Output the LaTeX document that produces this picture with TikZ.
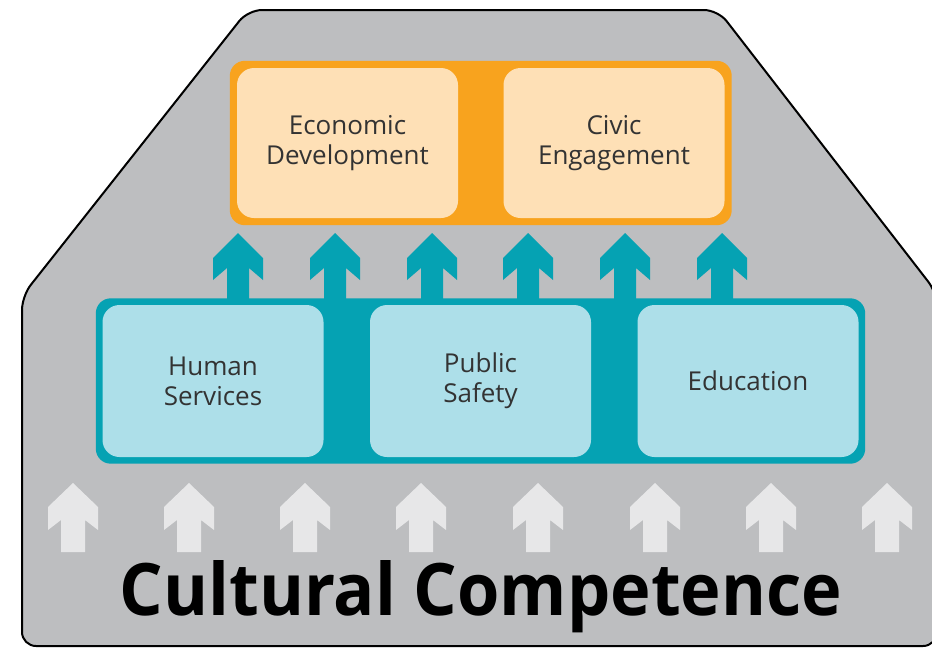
\documentclass[tikz,border=0pt]{standalone}
\usepackage{fontspec}
\setmainfont{Open Sans}
\usetikzlibrary{positioning,fit,backgrounds}

\definecolor{shadegray}{HTML}{BDBEC0}
\definecolor{amber}{HTML}{F8A31E}
\definecolor{peach}{HTML}{FEE0B6}
\definecolor{tealband}{HTML}{05A2B3}
\definecolor{skyblue}{HTML}{ADDFE9}
\definecolor{paleshaft}{HTML}{E7E7E8}
\definecolor{labelgray}{HTML}{333333}

\begin{document}
\begin{tikzpicture}[x=1pt, y=-1pt, node distance=267.5pt, on grid,
    box/.style={rounded corners=17pt, minimum width=221pt, minimum height=150pt,
      align=center, text=labelgray, font=\fontsize{26}{30}\selectfont},
    topbox/.style={box, fill=peach},
    midbox/.style={box, fill=skyblue, minimum height=152pt},
    frame/.style={rounded corners=15pt, inner sep=7pt}]
    \useasboundingbox (0,0) rectangle (932,648);
    \clip (0,0) rectangle (932,648);

    % outcomes and services
    \node[topbox] (ecodev) at (347.5,143) {Economic\\Development};
    \node[topbox, right=266.5pt of ecodev] (civic) {Civic\\Engagement};

    \node[midbox] (human) at (213,381) {Human\\Services};
    \node[midbox, right=of human] (safety) {Public\\Safety};
    \node[midbox, right=of safety] (education) {Education};

    \begin{scope}[on background layer]
        \filldraw[fill=shadegray, draw=black, line width=2pt, rounded corners=14pt]
            (248,10) -- (22,296) -- (22,646) -- (937,646) -- (937,293) -- (718,10) -- cycle;
        \node[frame, fill=amber, fit=(ecodev)(civic)] (outcomes) {};
        \node[frame, fill=tealband, inner sep=6.5pt, fit=(human)(education)] (services) {};
    \end{scope}

    % arrows from services up to outcomes
    \foreach \x in {238,335,432,528,625,722}
        \fill[tealband] (\x,233) -- ++(25,25) -- ++(0,22) -- ++(-14,-12) -- ++(0,32)
            -- ++(-22,0) -- ++(0,-32) -- ++(-14,12) -- ++(0,-22) -- cycle;

    % arrows from the base
    \foreach \x in {73,189,305,421,538,655,771,887}
        \fill[paleshaft] (\x,483) -- ++(25,24) -- ++(0,23) -- ++(-13,-10) -- ++(0,32)
            -- ++(-24,0) -- ++(0,-32) -- ++(-13,10) -- ++(0,-23) -- cycle;

    \node[inner sep=0pt, anchor=base] (title) at (481,615)
        {\resizebox{722pt}{55pt}{\bfseries Cultural Competence}};
\end{tikzpicture}
\end{document}
